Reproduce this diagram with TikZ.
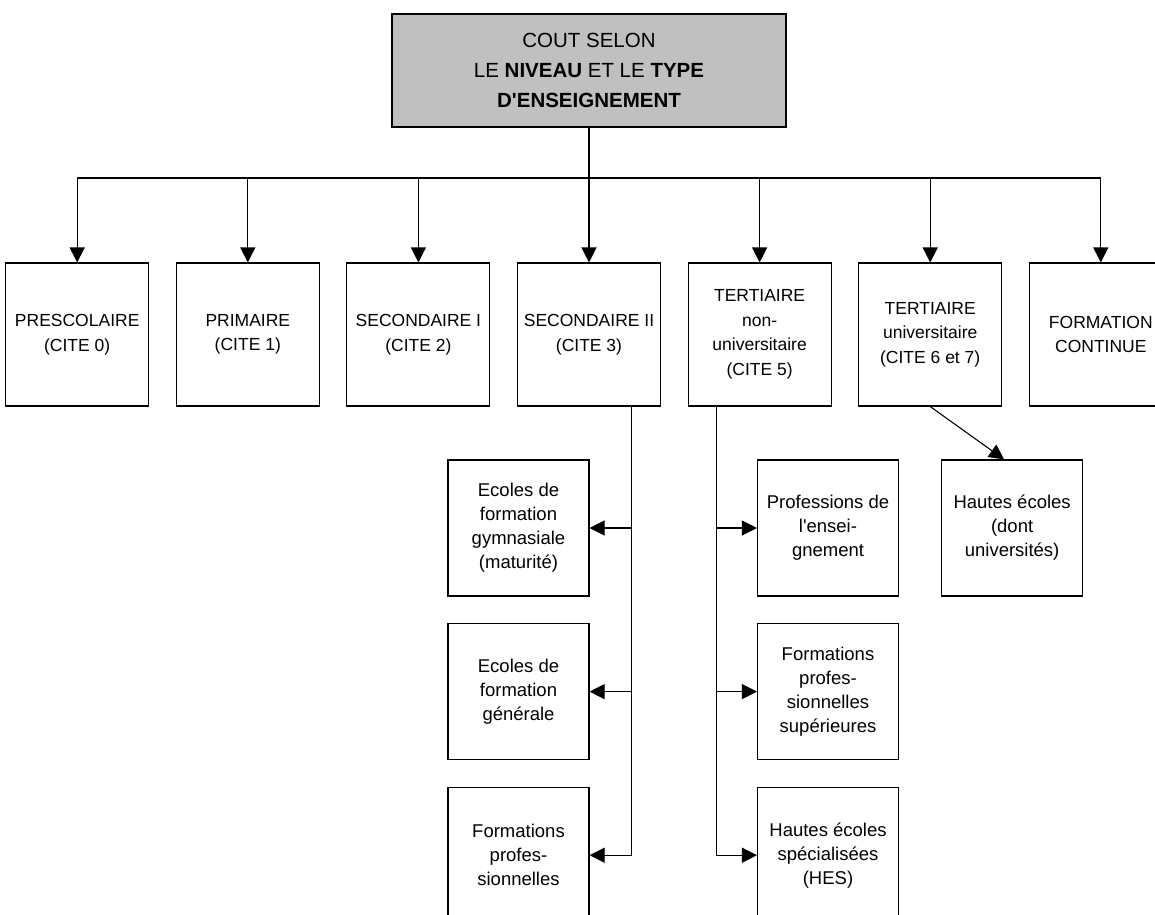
\documentclass[tikz,border=0pt]{standalone}
\usepackage{fontspec}
\setmainfont{Liberation Sans}
\usepackage{xcolor}
\usetikzlibrary{arrows.meta,positioning}
\definecolor{headgray}{RGB}{192,192,192}

\begin{document}
\begin{tikzpicture}[x=1pt, y=1pt, node distance=26.5pt and 26.5pt,
    every node/.style={font=\fontsize{17.5}{24.5}\selectfont},
    >={Triangle[width=15pt,length=15pt]}, line width=1.1pt,
    levelbox/.style={draw, fill=white, minimum width=143pt, minimum height=143pt, inner sep=1pt, align=center},
    subbox/.style={draw, fill=white, minimum width=141pt, minimum height=136pt, inner sep=1pt, align=center,
      font=\fontsize{18.5}{24}\selectfont}]

  \useasboundingbox (0,0) rectangle (1155,-914);
  \clip (0,0) rectangle (1155,-914);

  % Title
  \node (cout) [draw, fill=headgray, minimum width=394pt, minimum height=113pt, align=center,
    font=\fontsize{20.5}{30}\selectfont] at (589,-70.5)
    {COUT SELON\\ LE \textbf{NIVEAU} ET LE \textbf{TYPE}\\ \textbf{D\textquotesingle ENSEIGNEMENT}};

  % Levels
  \node (sec2) [levelbox] at (589,-334.5) {SECONDAIRE II\\ (CITE 3)};
  \node (sec1) [levelbox, left=of sec2] {SECONDAIRE I\\ (CITE 2)};
  \node (pri) [levelbox, left=of sec1] {PRIMAIRE\\ (CITE 1)};
  \node (pre) [levelbox, left=of pri] {PRESCOLAIRE\\ (CITE 0)};
  \node (ter1) [levelbox, right=of sec2] {TERTIAIRE\\ non-\\ universitaire\\ (CITE 5)};
  \node (ter2) [levelbox, right=of ter1] {TERTIAIRE\\ universitaire\\ (CITE 6 et 7)};
  \node (fc) [levelbox, right=of ter2] {FORMATION\\ CONTINUE};

  % Secondaire II
  \node (gym) [subbox] at (518.5,-528) {Ecoles de\\ formation\\ gymnasiale\\ (maturité)};
  \node (gen) [subbox, below=of gym] {Ecoles de\\ formation\\ générale};
  \node (fpro) [subbox, below=of gen] {Formations\\ profes-\\ sionnelles};

  % Tertiaire
  \node (prof) [subbox] at (828,-528) {Professions de\\ l\textquotesingle ensei-\\ gnement};
  \node (fsup) [subbox, below=of prof] {Formations\\ profes-\\ sionnelles\\ supérieures};
  \node (hes) [subbox, below=of fsup] {Hautes écoles\\ spécialisées\\ (HES)};
  \node (univ) [subbox, right=42pt of prof] {Hautes écoles\\ (dont\\ universités)};

  % Connectors
  \coordinate (bus) at (589,-178);
  \draw (cout.south) -- (bus);
  \foreach \lvl in {pre,pri,sec1,sec2,ter1,ter2,fc}
    \draw[->] (bus) -| (\lvl.north);

  \coordinate (s2trunk) at ([xshift=-30pt]sec2.south east);
  \foreach \sub in {gym,gen,fpro}
    \draw[->] (s2trunk) |- (\sub.east);

  \coordinate (t1trunk) at ([xshift=29pt]ter1.south west);
  \foreach \sub in {prof,fsup,hes}
    \draw[->] (t1trunk) |- (\sub.west);

  \draw[->] (ter2.south) -- ([xshift=-8pt]univ.north);

\end{tikzpicture}
\end{document}
